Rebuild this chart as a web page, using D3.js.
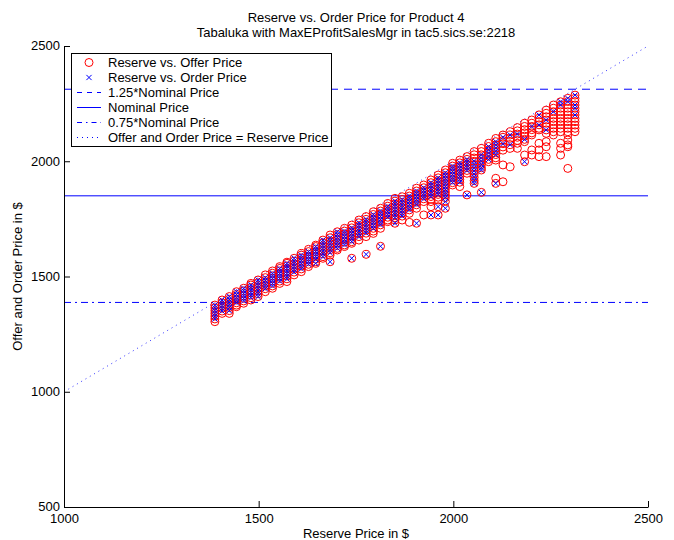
<!DOCTYPE html>
<html>
<head>
<meta charset="utf-8">
<script src="https://cdn.jsdelivr.net/npm/d3@7"></script>
<style>
  html, body { margin: 0; padding: 0; background: #fff; }
  svg { display: block; font-family: "Liberation Sans", Arial, Helvetica, sans-serif; }
</style>
</head>
<body>
<svg id="chart" width="674" height="540"></svg>
<script>
// ---------------- data ----------------
const titleLines = ["Reserve vs. Order Price for Product 4", "Tabaluka with MaxEProfitSalesMgr in tac5.sics.se:2218"];
const xLabel = "Reserve Price in $";
const yLabel = "Offer and Order Price in $";
const xTicks = [1000, 1500, 2000, 2500];
const yTicks = [500, 1000, 1500, 2000, 2500];
const xDomain = [1000, 2500];
const yDomain = [500, 2500];

const refLabels = ["1.25*Nominal Price", "Nominal Price", "0.75*Nominal Price"];
const refValues = [2312.5, 1850, 1387.5];
const diagonalLine = [1000, 2500];

const reserve = [1387.5, 1406, 1424.5, 1443, 1461.5, 1480, 1498.5, 1517, 1535.5, 1554,
  1572.5, 1591, 1609.5, 1628, 1646.5, 1665, 1683.5, 1702, 1720.5, 1739,
  1757.5, 1776, 1794.5, 1813, 1831.5, 1850, 1868.5, 1887, 1905.5, 1924,
  1942.5, 1961, 1979.5, 1998, 2016.5, 2035, 2053.5, 2072, 2090.5, 2109,
  2127.5, 2146, 2164.5, 2183, 2201.5, 2220, 2238.5, 2257, 2275.5, 2294, 2312.5];

const offers = [
  [1376,1364,1352,1340,1328,1316,1304],
  [1398,1386,1374,1362,1350,1340],
  [1413,1401,1389,1377,1365,1352,1340],
  [1434,1422,1410,1398,1386,1376,1369],
  [1449,1438,1427,1416,1405,1394,1384],
  [1470,1463,1452,1441,1430,1419,1408,1398],
  [1485,1473,1461,1449,1437,1425,1413],
  [1507,1495,1483,1471,1459,1447,1434],
  [1524,1514,1503,1492,1481,1470,1459,1449],
  [1543,1535,1524,1513,1502,1491,1480,1470],
  [1562,1557,1546,1535,1524,1513,1502,1490,1478],
  [1579,1567,1555,1543,1531,1519,1507],
  [1600,1593,1581,1569,1557,1545,1533,1521],
  [1618,1608,1597,1586,1575,1564,1553,1543],
  [1636,1630,1619,1608,1597,1586,1575,1564,1557],
  [1658,1646,1634,1622,1610,1598,1586,1579],
  [1680,1668,1655,1642,1629,1616,1603,1593,1564],
  [1694,1682,1670,1658,1646,1634,1622,1615],
  [1709,1697,1685,1673,1661,1649,1637,1630],
  [1723,1711,1699,1687,1675,1663,1651,1644,1579],
  [1745,1733,1721,1709,1697,1685,1673,1658],
  [1760,1748,1736,1724,1712,1700,1688,1673,1596],
  [1781,1769,1757,1745,1733,1721,1709,1697,1687],
  [1796,1784,1772,1760,1748,1736,1724,1709,1631],
  [1817,1805,1793,1781,1769,1757,1745,1738],
  [1839,1827,1815,1803,1791,1779,1767,1755,1745,1731],
  [1846,1834,1822,1810,1798,1786,1774,1762,1745],
  [1861,1849,1837,1825,1813,1801,1789,1774,1735],
  [1883,1871,1859,1847,1835,1823,1811,1796,1731],
  [1897,1885,1873,1861,1849,1837,1825,1767],
  [1919,1907,1895,1883,1871,1859,1847,1835,1825,1803,1767],
  [1940,1928,1916,1904,1892,1880,1868,1856,1844,1832,1803,1767],
  [1962,1950,1938,1926,1914,1902,1890,1878,1866,1854,1842,1825,1796],
  [1991,1979,1967,1955,1943,1931,1919,1907,1897],
  [2005,1993,1981,1969,1957,1945,1933,1921,1909,1890],
  [2020,2008,1996,1984,1972,1960,1948,1854],
  [2042,2028,2014,2000,1986,1972,1958,1944,1930,1916,1904],
  [2056,2042,2028,2014,2000,1986,1972,1962,1865],
  [2078,2064,2050,2036,2022,2008,1998],
  [2099,2085,2071,2057,2043,2029,2015,2005,1926,1904],
  [2114,2104,2090,2076,2062,2048,1984,1911],
  [2128,2114,2100,2086,2072,2056,1976],
  [2146,2132,2118,2104,2090,2078,2056],
  [2165,2151,2137,2123,2109,2095,2085,2027,1998],
  [2179,2165,2151,2137,2123,2114,2049,2027],
  [2201,2187,2172,2158,2143,2136,2078,2049,2020],
  [2222,2208,2193,2179,2165,2150,2136,2121,2085,2063,2020],
  [2244,2230,2215,2201,2186,2172,2158,2143,2128,2114],
  [2258,2244,2230,2215,2201,2186,2172,2158,2143,2128,2078,2056,2027],
  [2273,2259,2244,2230,2215,2201,2186,2172,2158,2143,2128,2114,2092,2071,2063,1969],
  [2287,2273,2259,2244,2230,2215,2201,2186,2172,2157,2143,2128]
];

const orders = [
  [1376,1364,1352,1340,1328,1316],
  [1398,1386,1374,1362,1350],
  [1413,1401,1389,1377,1365,1352],
  [1434,1422,1410,1398,1386],
  [1449,1438,1427,1416,1405,1394],
  [1463,1452,1441,1430,1419,1408],
  [1485,1473,1461,1449,1437,1425,1413],
  [1495,1483,1471,1459,1447],
  [1514,1503,1492,1481,1470,1459],
  [1535,1524,1513,1502,1491,1480],
  [1557,1546,1535,1524,1513,1502,1490],
  [1579,1567,1555,1543,1531,1519],
  [1593,1581,1569,1557,1545,1533],
  [1608,1597,1586,1575,1564,1553],
  [1630,1619,1608,1597,1586,1575,1557],
  [1658,1646,1634,1622,1610,1598,1586],
  [1668,1655,1642,1629,1616,1603,1564],
  [1694,1682,1670,1658,1646,1634,1622],
  [1697,1685,1673,1661,1649,1637],
  [1711,1699,1687,1675,1663,1651,1579],
  [1733,1721,1709,1697,1685,1673],
  [1748,1736,1724,1712,1700,1688,1596],
  [1769,1757,1745,1733,1721,1709],
  [1784,1772,1760,1748,1736,1724,1631],
  [1805,1793,1781,1769,1757],
  [1827,1815,1803,1791,1779,1767,1755,1731],
  [1834,1822,1810,1798,1786,1774,1762],
  [1849,1837,1825,1813,1801,1789],
  [1871,1859,1847,1835,1823,1811,1731],
  [1885,1873,1861,1849,1837],
  [1907,1895,1883,1871,1859,1847,1767],
  [1928,1916,1904,1892,1880,1868,1856,1803,1767],
  [1950,1938,1926,1914,1902,1890,1878,1866,1854,1842,1825,1796],
  [1979,1967,1955,1943,1931,1919,1907],
  [1993,1981,1969,1957,1945,1933,1921,1909],
  [2008,1996,1984,1972,1960,1854],
  [2000,1986,1972,1958,1944,1930,1916,1904],
  [2028,2014,2000,1986,1972,1962,1865],
  [2064,2050,2036,2022,2008],
  [2085,2071,2057,2043,2029,1904],
  [2104,2076],
  [2114,2072],
  [2118],
  [2095,1998],
  [2151],
  [2201,2158],
  [2179,2136],
  [2215],
  [2258,2244],
  [2273,2259],
  [2287,2244,2230,2201]
];

const legendLabels = ["Reserve vs. Offer Price", "Reserve vs. Order Price",
  "1.25*Nominal Price", "Nominal Price", "0.75*Nominal Price",
  "Offer and Order Price = Reserve Price"];

// ---------------- drawing ----------------
const svg = d3.select("#chart");
const FONT = 13;
const x = d3.scaleLinear().domain(xDomain).range([64, 648]);
const y = d3.scaleLinear().domain(yDomain).range([507, 46]);

const offerPts = [], orderPts = [];
reserve.forEach((r, i) => {
  offers[i].forEach(v => offerPts.push([r, v]));
  orders[i].forEach(v => orderPts.push([r, v]));
});

const blue = "#0000ff", red = "#ff0000";
const refDash = ["8,6", null, "7,4,2,4"];

// reference lines
const gLines = svg.append("g");
refValues.forEach((v, i) => {
  gLines.append("line")
    .attr("x1", x(xDomain[0])).attr("x2", x(xDomain[1]))
    .attr("y1", y(v)).attr("y2", y(v))
    .attr("stroke", blue).attr("stroke-width", 1)
    .attr("stroke-dasharray", refDash[i]);
});
gLines.append("line")
  .attr("x1", x(diagonalLine[0])).attr("y1", y(diagonalLine[0]))
  .attr("x2", x(diagonalLine[1])).attr("y2", y(diagonalLine[1]))
  .attr("stroke", blue).attr("stroke-width", 1)
  .attr("stroke-dasharray", "1,4").attr("stroke-opacity", 0.8);

// offers (circles)
svg.append("g").selectAll("circle").data(offerPts).join("circle")
  .attr("cx", d => x(d[0])).attr("cy", d => y(d[1])).attr("r", 4)
  .attr("fill", "none").attr("stroke", red).attr("stroke-width", 1);

// orders (x marks)
const xs = 2.6;
svg.append("g").selectAll("path").data(orderPts).join("path")
  .attr("d", d => {
    const cx = x(d[0]), cy = y(d[1]);
    return `M${cx - xs},${cy - xs}L${cx + xs},${cy + xs}M${cx - xs},${cy + xs}L${cx + xs},${cy - xs}`;
  })
  .attr("stroke", blue).attr("stroke-width", 1).attr("fill", "none");

// axes
const xAxis = d3.axisBottom(x).tickValues(xTicks).tickSizeInner(-6).tickSizeOuter(0).tickPadding(7).tickFormat(d3.format("d"));
const yAxis = d3.axisLeft(y).tickValues(yTicks).tickSizeInner(-6).tickSizeOuter(0).tickPadding(4).tickFormat(d3.format("d"));
const gx = svg.append("g").attr("transform", `translate(0,${y(yDomain[0])})`).call(xAxis);
const gy = svg.append("g").attr("transform", `translate(${x(xDomain[0])},0)`).call(yAxis);
[gx, gy].forEach(g => {
  g.selectAll("text").attr("font-size", FONT).attr("fill", "#000")
    .attr("font-family", "'Liberation Sans', Arial, Helvetica, sans-serif");
  g.selectAll("line,path").attr("stroke", "#000");
  g.attr("font-family", null).attr("font-size", null);
});
gy.selectAll("text").attr("dy", "0.3em");

// labels
const cx = (x(xDomain[0]) + x(xDomain[1])) / 2;
svg.append("text").attr("x", cx).attr("y", 538).attr("text-anchor", "middle")
  .attr("font-size", FONT).text(xLabel);
svg.append("text").attr("transform", `translate(22,${(y(yDomain[0]) + y(yDomain[1])) / 2}) rotate(-90)`)
  .attr("text-anchor", "middle").attr("font-size", FONT).text(yLabel);
titleLines.forEach((t, i) => {
  svg.append("text").attr("x", cx).attr("y", 22 + i * 15).attr("text-anchor", "middle")
    .attr("font-size", FONT).text(t);
});

// legend
const lg = svg.append("g");
const lx = 71, ly = 53, lw = 260, lh = 93;
lg.append("rect").attr("x", lx + 0.5).attr("y", ly + 0.5).attr("width", lw).attr("height", lh)
  .attr("fill", "#fff").attr("stroke", "#000").attr("stroke-width", 1);
const rowY = i => 62.5 + i * 15;
legendLabels.forEach((t, i) => {
  lg.append("text").attr("x", 108).attr("y", rowY(i)).attr("dy", "0.35em")
    .attr("font-size", FONT).text(t);
});
lg.append("circle").attr("cx", 89).attr("cy", rowY(0)).attr("r", 4)
  .attr("fill", "none").attr("stroke", red);
lg.append("path").attr("d", `M${89 - xs},${rowY(1) - xs}L${89 + xs},${rowY(1) + xs}M${89 - xs},${rowY(1) + xs}L${89 + xs},${rowY(1) - xs}`)
  .attr("stroke", blue).attr("fill", "none");
const legDash = ["5,5", null, "5,4,1.5,4", "1,4"];
legDash.forEach((dsh, j) => {
  lg.append("line").attr("x1", 77).attr("x2", 101)
    .attr("y1", rowY(j + 2)).attr("y2", rowY(j + 2))
    .attr("stroke", blue).attr("stroke-dasharray", dsh);
});
</script>
</body>
</html>
